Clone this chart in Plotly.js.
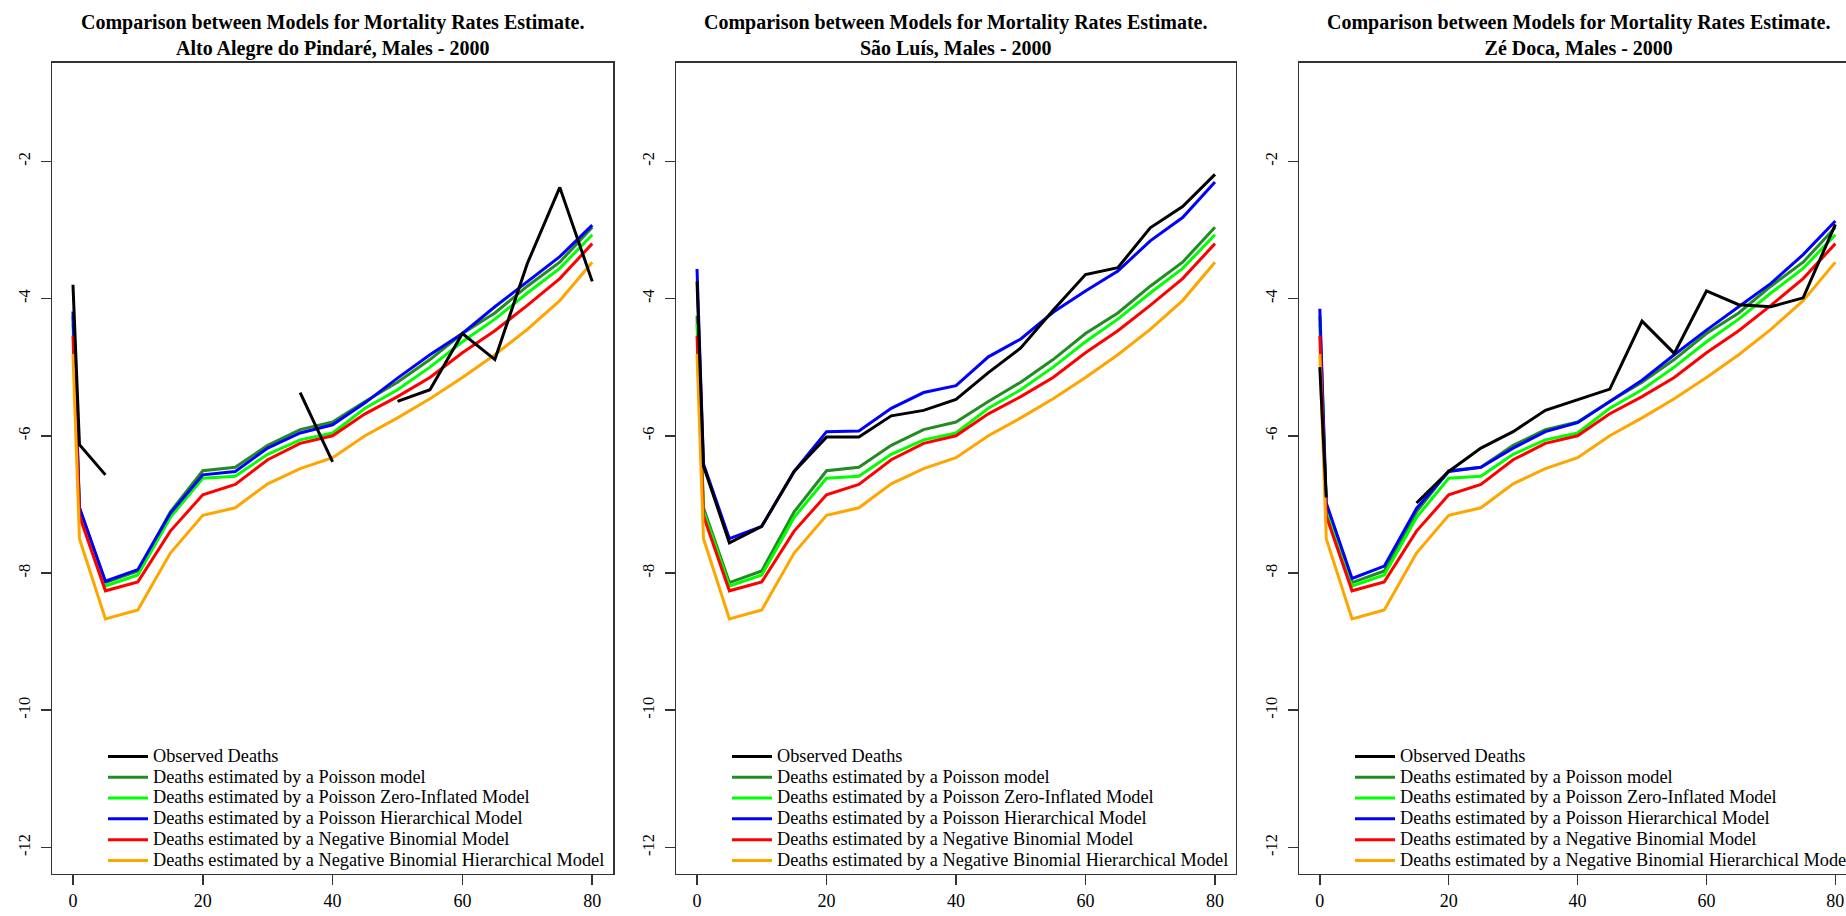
<!DOCTYPE html>
<html><head><meta charset="utf-8">
<script src="https://cdn.plot.ly/plotly-3.0.1.min.js"></script>
<style>html,body{margin:0;padding:0;background:#fff;overflow:hidden}#chart{width:1846px;height:916px}</style>
</head><body><div id="chart"></div>
<script>
// Age groups (x axis)
const ages = [0, 1, 5, 10, 15, 20, 25, 30, 35, 40, 45, 50, 55, 60, 65, 70, 75, 80];

// Panel titles
const panelTitles = [
  "Comparison between Models for Mortality Rates Estimate.<br>Alto Alegre do Pindaré, Males - 2000",
  "Comparison between Models for Mortality Rates Estimate.<br>São Luís, Males - 2000",
  "Comparison between Models for Mortality Rates Estimate.<br>Zé Doca, Males - 2000"
];

// Legend labels
const seriesNames = [
  "Observed Deaths",
  "Deaths estimated by a Poisson model",
  "Deaths estimated by a Poisson Zero-Inflated Model",
  "Deaths estimated by a Poisson Hierarchical Model",
  "Deaths estimated by a Negative Binomial Model",
  "Deaths estimated by a Negative Binomial Hierarchical Model"
];
const seriesColors = ["#000000", "#228B22", "#00FF00", "#0000FF", "#FF0000", "#FFA500"];

// Log mortality rates - models common to all panels
const poissonRate   = [-4.25, -7.05, -8.14, -7.97, -7.11, -6.51, -6.46, -6.14, -5.91, -5.80, -5.50, -5.22, -4.89, -4.51, -4.21, -3.82, -3.47, -2.96];
const zipRate       = [-4.37, -7.10, -8.19, -8.03, -7.19, -6.62, -6.59, -6.27, -6.06, -5.96, -5.60, -5.33, -5.00, -4.63, -4.30, -3.92, -3.56, -3.07];
const negBinRate    = [-4.54, -7.17, -8.26, -8.13, -7.39, -6.86, -6.71, -6.35, -6.11, -6.00, -5.68, -5.43, -5.15, -4.79, -4.47, -4.10, -3.71, -3.20];
const negBinHierRate= [-4.81, -7.50, -8.67, -8.54, -7.71, -7.16, -7.05, -6.70, -6.48, -6.32, -6.00, -5.74, -5.46, -5.15, -4.82, -4.45, -4.03, -3.47];

// Panel-specific series
const altoObserved  = [-3.80, -6.13, -6.57, null, null, null, null, null, -5.37, -6.38, null, -5.50, -5.33, -4.51, -4.89, -3.49, -2.38, -3.75];
const altoPoisHier  = [-4.19, -7.05, -8.12, -7.95, -7.13, -6.57, -6.52, -6.18, -5.96, -5.84, -5.52, -5.16, -4.82, -4.51, -4.12, -3.75, -3.39, -2.93];
const saoObserved   = [-3.75, -6.44, -7.56, -7.32, -6.52, -6.02, -6.02, -5.71, -5.63, -5.47, -5.08, -4.72, -4.17, -3.65, -3.55, -2.97, -2.66, -2.19];
const saoPoisHier   = [-3.57, -6.41, -7.50, -7.32, -6.52, -5.94, -5.93, -5.60, -5.37, -5.27, -4.85, -4.59, -4.20, -3.89, -3.60, -3.16, -2.82, -2.30];
const zeObserved    = [-5.00, -6.90, null, null, -6.98, -6.52, -6.18, -5.94, -5.63, -5.47, -5.32, -4.33, -4.80, -3.89, -4.09, -4.12, -3.99, -2.92];
const zePoisHier    = [-4.15, -6.98, -8.08, -7.90, -7.06, -6.52, -6.46, -6.18, -5.94, -5.81, -5.50, -5.19, -4.82, -4.46, -4.12, -3.78, -3.36, -2.87];

const xTicks = [0, 20, 40, 60, 80];
const yTicks = [-12, -10, -8, -6, -4, -2];

const panels = [
  {obs: altoObserved, hier: altoPoisHier},
  {obs: saoObserved, hier: saoPoisHier},
  {obs: zeObserved, hier: zePoisHier}
];

const W = 1846, H = 916;
const boxTop = 62.5, boxBottom = 873.5;
const xDomains = [[52.2 / W, 613 / W], [676.3 / W, 1235.7 / W], [1299.2 / W, 1]];
const xRanges = [[-3.2, 83.2], [-3.2, 83.2], [-3.2, 81.65]];
const yDomain = [1 - boxBottom / H, 1 - boxTop / H];
const yRange = [-12.38, -0.56];
const legendLeft = [103, 727, 1350];

const serif = "'Liberation Serif', 'Times New Roman', serif";
const traces = [];
// drawing order: coloured model lines first, observed on top; legend order via legendrank
const drawOrder = [1, 2, 3, 4, 5, 0];
panels.forEach((p, i) => {
  const ys = [p.obs, poissonRate, zipRate, p.hier, negBinRate, negBinHierRate];
  const sfx = i === 0 ? "" : String(i + 1);
  drawOrder.forEach(k => {
    traces.push({
      type: "scatter", mode: "lines",
      x: ages, y: ys[k],
      name: '<span style="font-size:18.3px">' + seriesNames[k] + '</span>',
      line: {color: seriesColors[k], width: 3},
      connectgaps: false,
      xaxis: "x" + sfx, yaxis: "y" + sfx,
      legend: "legend" + sfx,
      legendrank: k + 1,
      hoverinfo: "x+y"
    });
  });
});

const layout = {
  width: W, height: H,
  margin: {l: 0, r: 0, t: 0, b: 0, pad: 0, autoexpand: false},
  paper_bgcolor: "#ffffff", plot_bgcolor: "#ffffff",
  showlegend: true,
  hovermode: false,
  annotations: [],
  font: {family: serif, color: "#000000"}
};

panels.forEach((p, i) => {
  const sfx = i === 0 ? "" : String(i + 1);
  const axLine = {showline: true, linecolor: "#333333", linewidth: 1.5, showgrid: false, zeroline: false,
                  ticks: "outside", ticklen: 10, tickwidth: 1.5, tickcolor: "#333333", automargin: false, fixedrange: true};
  layout["xaxis" + sfx] = Object.assign({}, axLine, {
    domain: xDomains[i], range: xRanges[i], anchor: "y" + sfx,
    tickmode: "array", tickvals: xTicks, ticktext: xTicks.map(String),
    tickfont: {family: serif, size: 18, color: "#000"}, ticklabelstandoff: 0,
    mirror: true
  });
  layout["yaxis" + sfx] = Object.assign({}, axLine, {
    domain: yDomain, range: yRange, anchor: "x" + sfx,
    tickmode: "array", tickvals: yTicks, ticktext: yTicks.map(String),
    tickangle: -90, tickfont: {family: serif, size: 16.5, color: "#000"}, ticklabelstandoff: 4,
    mirror: i < 2
  });
  const cx = (xDomains[i][0] * W + (i === 2 ? 1857 : xDomains[i][1] * W)) / 2;
  layout.annotations.push({
    text: panelTitles[i], xref: "paper", yref: "paper",
    x: cx / W, y: 1 - 35 / H, xanchor: "center", yanchor: "middle",
    showarrow: false, align: "center",
    font: {family: serif, size: 20, color: "#000", weight: "bold"}
  });
  layout["legend" + sfx] = {
    x: legendLeft[i] / W, y: 1 - 741 / H, xanchor: "left", yanchor: "top",
    bgcolor: "rgba(0,0,0,0)", borderwidth: 0, itemwidth: 40,
    font: {family: serif, size: 13.7, color: "#000"},
    traceorder: "normal", itemclick: false, itemdoubleclick: false
  };
});

Plotly.newPlot("chart", traces, layout, {displayModeBar: false, staticPlot: true});
</script>
</body></html>
